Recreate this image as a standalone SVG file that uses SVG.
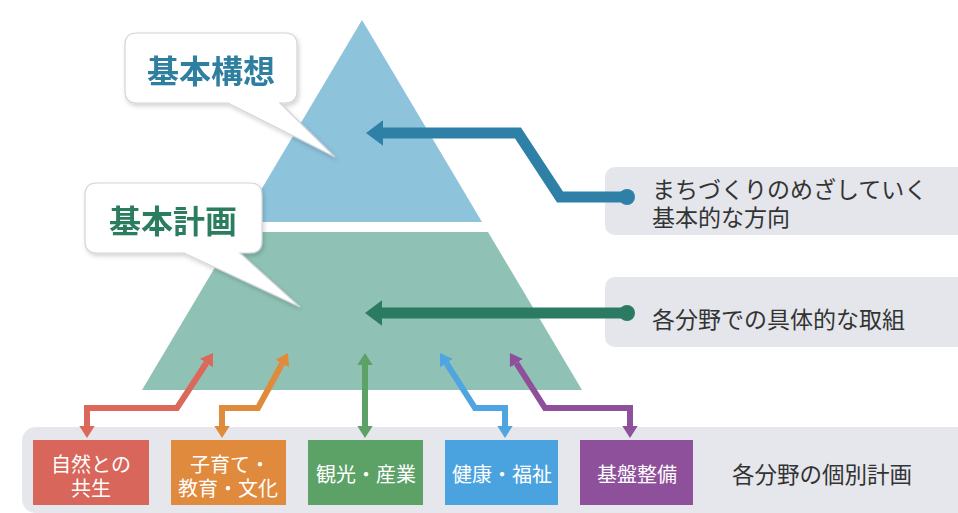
<svg xmlns="http://www.w3.org/2000/svg" width="958" height="513" viewBox="0 0 958 513">
<defs>
<style>
.jp{font-family:"Noto Sans CJK JP","Noto Sans CJK SC",sans-serif}
.callout{fill:#ffffff;stroke:#d2d4d8;stroke-width:1.2}
.ctitle{font-size:32px;font-weight:700;text-anchor:middle;dominant-baseline:central}
.label{fill:#e4e6ec}
.ltext{font-size:23px;fill:#333333}
.btext{font-size:20px;fill:#ffffff;text-anchor:middle;dominant-baseline:central}
.conn{fill:none;stroke-width:6;stroke-linejoin:miter}
.big{fill:none;stroke-width:11;stroke-linejoin:miter}
</style>
<filter id="sh" x="-10%" y="-10%" width="130%" height="140%">
<feDropShadow dx="1.5" dy="2.5" stdDeviation="2" flood-color="#000000" flood-opacity="0.18"/>
</filter>
<marker id="hRed" markerUnits="userSpaceOnUse" markerWidth="14" markerHeight="18" refX="0" refY="0" viewBox="0 -9 14 18" orient="auto-start-reverse"><path d="M-0.5,-8 L12,0 L-0.5,8 z" fill="#dc675b"/></marker>
<marker id="hOra" markerUnits="userSpaceOnUse" markerWidth="14" markerHeight="18" refX="0" refY="0" viewBox="0 -9 14 18" orient="auto-start-reverse"><path d="M-0.5,-8 L12,0 L-0.5,8 z" fill="#e08a3c"/></marker>
<marker id="hGrn" markerUnits="userSpaceOnUse" markerWidth="14" markerHeight="18" refX="0" refY="0" viewBox="0 -9 14 18" orient="auto-start-reverse"><path d="M-0.5,-8 L12,0 L-0.5,8 z" fill="#5ca166"/></marker>
<marker id="hBlu" markerUnits="userSpaceOnUse" markerWidth="14" markerHeight="18" refX="0" refY="0" viewBox="0 -9 14 18" orient="auto-start-reverse"><path d="M-0.5,-8 L12,0 L-0.5,8 z" fill="#4ea5e0"/></marker>
<marker id="hPur" markerUnits="userSpaceOnUse" markerWidth="14" markerHeight="18" refX="0" refY="0" viewBox="0 -9 14 18" orient="auto-start-reverse"><path d="M-0.5,-8 L12,0 L-0.5,8 z" fill="#8e509b"/></marker>
<marker id="hTeal" markerUnits="userSpaceOnUse" markerWidth="19" markerHeight="28" refX="0" refY="0" viewBox="0 -14 19 28" orient="auto"><path d="M-0.5,-13 L17,0 L-0.5,13 z" fill="#2e80a6"/></marker>
<marker id="hDg" markerUnits="userSpaceOnUse" markerWidth="19" markerHeight="28" refX="0" refY="0" viewBox="0 -14 19 28" orient="auto"><path d="M-0.5,-13 L17,0 L-0.5,13 z" fill="#2b7b63"/></marker>
</defs>

<rect width="958" height="513" fill="#ffffff"/>

<g id="pyramid">
<polygon id="tier-top" points="362,20 482,222 242,222" fill="#8ec3dc"/>
<polygon id="tier-bottom" points="236,232 488,232 582,390 142,390" fill="#8fc2b5"/>
</g>

<g id="band">
<rect x="22" y="427" width="950" height="86" rx="14" fill="#e6e7ec"/>
</g>

<g id="label-direction">
<rect class="label" x="605" y="167" width="362" height="68" rx="10"/>
<text class="jp ltext" x="652" y="198">まちづくりのめざしていく<tspan x="652" dy="28">基本的な方向</tspan></text>
</g>

<g id="label-measures">
<rect class="label" x="605" y="277" width="362" height="70" rx="10"/>
<text class="jp ltext" x="652" y="318" style="dominant-baseline:central">各分野での具体的な取組</text>
</g>

<g id="connectors">
<path class="big" stroke="#2e80a6" d="M627,197 H560 L518,133 H383" marker-end="url(#hTeal)"/>
<circle cx="627" cy="197" r="8" fill="#2e80a6"/>
<path class="big" stroke="#2b7b63" d="M627,313 H382" marker-end="url(#hDg)"/>
<circle cx="627" cy="313" r="8" fill="#2b7b63"/>
<path class="conn" stroke="#dc675b" d="M87,426 V408 H177 L206.4,363" marker-start="url(#hRed)" marker-end="url(#hRed)"/>
<path class="conn" stroke="#e08a3c" d="M222,426 V408 H258 L282.2,363.5" marker-start="url(#hOra)" marker-end="url(#hOra)"/>
<path class="conn" stroke="#5ca166" d="M365,426 V365" marker-start="url(#hGrn)" marker-end="url(#hGrn)"/>
<path class="conn" stroke="#4ea5e0" d="M505,426 V408 H475 L446.4,363.1" marker-start="url(#hBlu)" marker-end="url(#hBlu)"/>
<path class="conn" stroke="#8e509b" d="M630,426 V408 H545 L516.4,363.1" marker-start="url(#hPur)" marker-end="url(#hPur)"/>
</g>

<g id="callout-kihon-kousou" filter="url(#sh)">
<path class="callout" d="M137,33 H285 Q297,33 297,45 V91 Q297,103 285,103 H280 L335,157 L228,103 H137 Q125,103 125,91 V45 Q125,33 137,33 Z"/>
<text class="jp ctitle" x="211" y="69" fill="#2f7fa0">基本構想</text>
</g>

<g id="callout-kihon-keikaku" filter="url(#sh)">
<path class="callout" d="M97,183 H250 Q262,183 262,195 V241 Q262,253 250,253 H240 L300,307 L184,253 H97 Q85,253 85,241 V195 Q85,183 97,183 Z"/>
<text class="jp ctitle" x="173" y="219" fill="#2c7d5e">基本計画</text>
</g>

<g id="box-shizen">
<rect x="33" y="440" width="116" height="65" fill="#d8665a"/>
<text class="jp btext" x="91" y="463">自然との<tspan x="91" dy="24">共生</tspan></text>
</g>

<g id="box-kosodate">
<rect x="171" y="440" width="115" height="65" fill="#df8a3d"/>
<text class="jp btext" x="230" y="463">子育て・<tspan x="228" dy="24">教育・文化</tspan></text>
</g>

<g id="box-kankou">
<rect x="308" y="440" width="115" height="65" fill="#5ca166"/>
<text class="jp btext" x="366" y="473">観光・産業</text>
</g>

<g id="box-kenkou">
<rect x="445" y="440" width="113" height="65" fill="#4aa3df"/>
<text class="jp btext" x="502" y="473">健康・福祉</text>
</g>

<g id="box-kiban">
<rect x="580" y="440" width="113" height="65" fill="#8e4f9b"/>
<text class="jp btext" x="637" y="473">基盤整備</text>
</g>

<g id="band-label">
<text class="jp" x="732" y="473" font-size="22.5" fill="#333333" dominant-baseline="central">各分野の個別計画</text>
</g>
</svg>
